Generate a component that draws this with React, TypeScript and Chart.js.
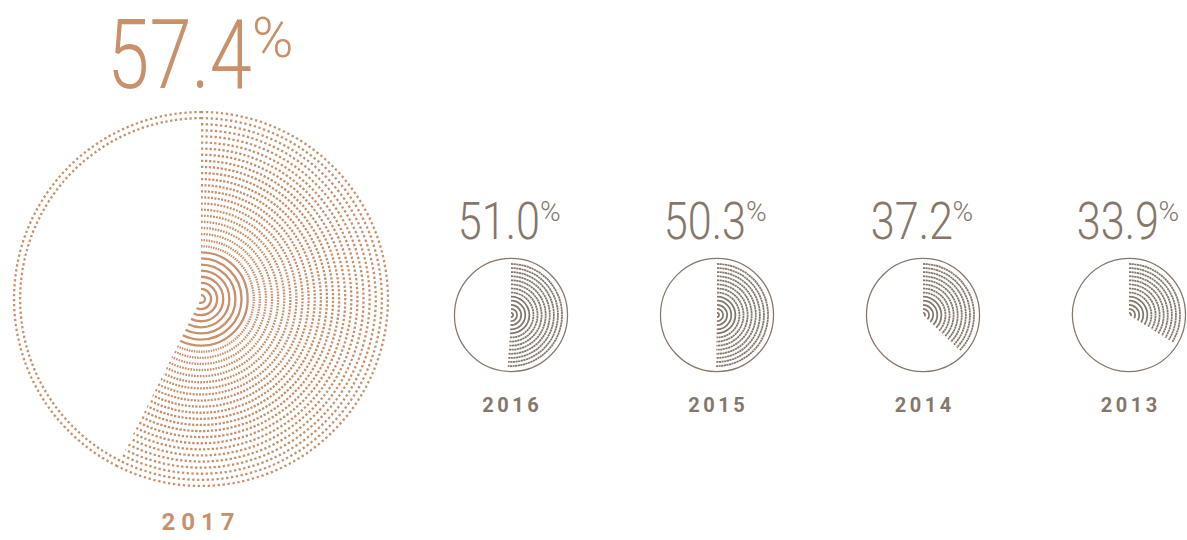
import React, { useEffect, useRef } from 'react';
import { Chart, registerables } from 'chart.js';

Chart.register(...registerables);

// ---- data ----
const YEARS = ['2017', '2016', '2015', '2014', '2013'];
const SHARES = [57.4, 51.0, 50.3, 37.2, 33.9];

const BIG_COLOR = '#c8906b';
const SMALL_COLOR = '#85776a';
const FONT = 'Roboto, "DejaVu Sans", sans-serif';

function dashFor(style: string, r: number, full: boolean): number[] {
  if (style === 'big') {
    if (r < 48) return [];
    const period = 1.45 + 0.0189 * r;
    const dash = Math.min(2.3, 0.6 * period);
    return [dash, period - dash];
  }
  if (full) return [];
  if (r < 22) return [];
  return [2.2, 0.45];
}

const ringPlugin = {
  id: 'dottedRings',
  afterDatasetsDraw(chart: any) {
    const ctx = chart.ctx;
    chart.data.datasets.forEach((ds: any, i: number) => {
      const meta = chart.getDatasetMeta(i);
      meta.data.forEach((arc: any, j: number) => {
        const col = ds.ringColors[j];
        if (!col) return;
        const p = arc.getProps(['x', 'y', 'startAngle', 'endAngle', 'innerRadius', 'outerRadius'], true);
        const r = (p.innerRadius + p.outerRadius) / 2;
        ctx.save();
        ctx.strokeStyle = col;
        ctx.lineWidth = ds.ringWidth;
        ctx.lineCap = 'butt';
        ctx.setLineDash(dashFor(ds.ringStyle, r, ds.full));
        ctx.beginPath();
        ctx.arc(p.x, p.y, r, p.startAngle, p.endAngle);
        ctx.stroke();
        ctx.restore();
      });
    });
  },
};

type PieProps = {
  share: number;
  size: number;
  rings: number;
  fullRings: number;
  outerWeight: number;
  cutout: number;
  color: string;
  style: 'big' | 'small';
  left: number;
  top: number;
};

function RingPie(props: PieProps) {
  const ref = useRef<HTMLCanvasElement>(null);
  useEffect(() => {
    const datasets: any[] = [];
    for (let k = 0; k < props.rings; k++) {
      const full = k < props.fullRings;
      datasets.push({
        data: [props.share, 100 - props.share],
        backgroundColor: 'transparent',
        borderWidth: 0,
        hoverBorderWidth: 0,
        hoverOffset: 0,
        weight: full ? props.outerWeight : 1,
        ringColors: full ? [props.color, props.color] : [props.color, null],
        ringWidth: props.style === 'big' ? 2.3 : full ? 1.25 : 1.75,
        ringStyle: props.style,
        full,
      });
    }
    const chart = new Chart(ref.current!, {
      type: 'doughnut',
      data: { labels: ['share', 'rest'], datasets },
      options: {
        animation: false,
        responsive: false,
        events: [],
        cutout: props.cutout,
        layout: { padding: 0 },
        plugins: { legend: { display: false }, tooltip: { enabled: false } },
      },
      plugins: [ringPlugin],
    } as any);
    return () => chart.destroy();
  }, []);
  return (
    <canvas
      ref={ref}
      width={props.size}
      height={props.size}
      style={{ position: 'absolute', left: props.left, top: props.top, width: props.size, height: props.size }}
    />
  );
}

function Percent(props: { split: number; baseline: number; numSize: number; pctSize: number; pctTop: number; scale: number; color: string; text: string }) {
  const { split, baseline, numSize, pctSize, pctTop, scale, color, text } = props;
  return (
    <>
      <div
        style={{
          position: 'absolute',
          right: 1187 - split,
          top: baseline - 0.842 * numSize,
          fontFamily: FONT,
          fontWeight: 300,
          fontSize: numSize,
          lineHeight: 1,
          color,
          whiteSpace: 'nowrap',
          transform: `scaleX(${scale})`,
          transformOrigin: 'right center',
        }}
      >
        {text}
      </div>
      <div
        style={{
          position: 'absolute',
          left: split,
          top: pctTop - 0.131 * pctSize,
          fontFamily: FONT,
          fontWeight: 300,
          fontSize: pctSize,
          lineHeight: 1,
          color,
          whiteSpace: 'nowrap',
        }}
      >
        %
      </div>
    </>
  );
}

function YearLabel(props: { cx: number; baseline: number; size: number; spacing: number; color: string; text: string }) {
  const { cx, baseline, size, spacing, color, text } = props;
  return (
    <div
      style={{
        position: 'absolute',
        left: cx,
        top: baseline - 0.842 * size,
        transform: 'translateX(-50%)',
        fontFamily: FONT,
        fontWeight: 700,
        fontSize: size,
        lineHeight: 1,
        letterSpacing: spacing,
        paddingLeft: spacing,
        color,
        whiteSpace: 'nowrap',
      }}
    >
      {text}
    </div>
  );
}

const SMALL_CX = [510.5, 716.5, 923, 1129];

export default function App() {
  return (
    <div style={{ position: 'absolute', left: 0, top: 0, width: 1187, height: 540, background: '#fff', overflow: 'hidden' }}>
      {/* big 2017 */}
      <Percent split={252} baseline={88} numSize={96} pctSize={56} pctTop={17} scale={0.79} color={BIG_COLOR} text={SHARES[0].toFixed(1)} />
      <RingPie share={SHARES[0]} size={380} rings={31} fullRings={2} outerWeight={1} cutout={0.9} color={BIG_COLOR} style="big" left={10.5} top={109} />
      <YearLabel cx={198} baseline={530} size={24} spacing={6} color={BIG_COLOR} text={YEARS[0]} />

      {SMALL_CX.map((cx, i) => (
        <React.Fragment key={YEARS[i + 1]}>
          <Percent split={cx + 29.5} baseline={240} numSize={52} pctSize={28} pctTop={202} scale={0.83} color={SMALL_COLOR} text={SHARES[i + 1].toFixed(1)} />
          <RingPie share={SHARES[i + 1]} size={120} rings={14} fullRings={1} outerWeight={1.7} cutout={0} color={SMALL_COLOR} style="small" left={cx - 60} top={254.5} />
          <YearLabel cx={cx} baseline={412} size={20} spacing={3.5} color={SMALL_COLOR} text={YEARS[i + 1]} />
        </React.Fragment>
      ))}
    </div>
  );
}
